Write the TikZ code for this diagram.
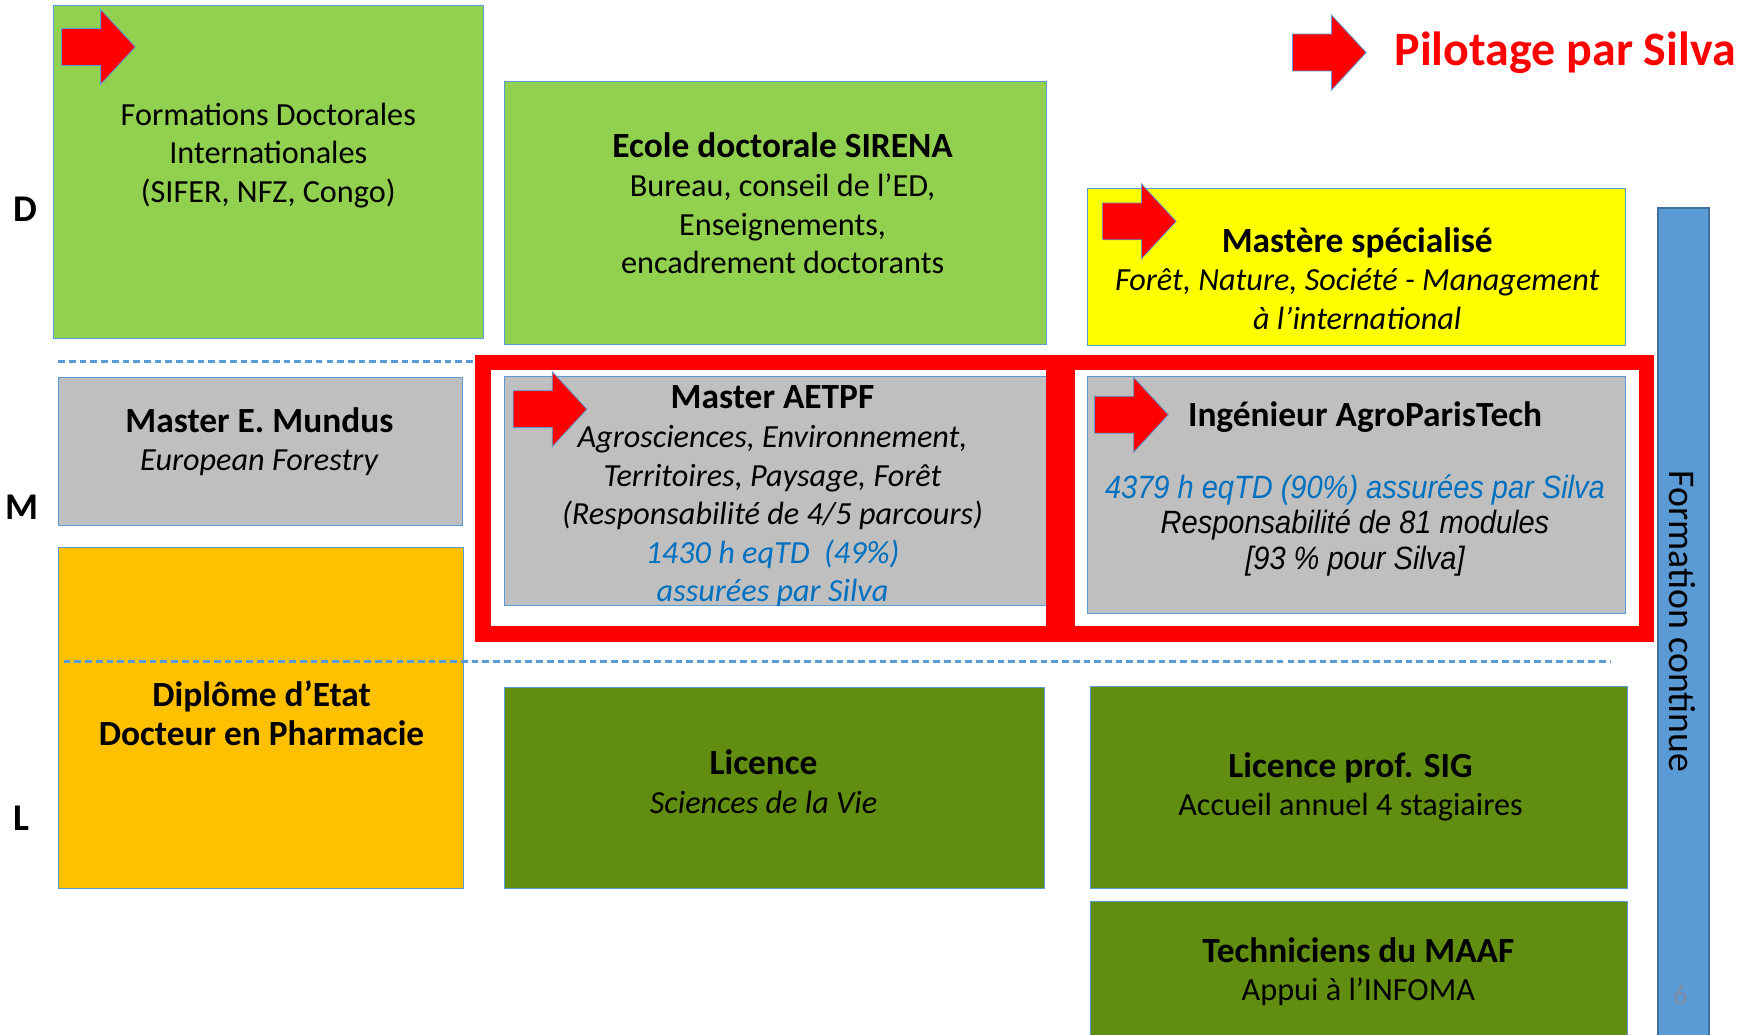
\documentclass[tikz,border=0pt]{standalone}
\usepackage{fontspec}
\setmainfont{Carlito}
\newfontfamily\narrowsans[FakeStretch=0.9]{Liberation Sans}
\definecolor{lightgreen}{RGB}{146,208,80}
\definecolor{darkgreen}{RGB}{97,142,17}
\definecolor{boxgray}{RGB}{191,191,191}
\definecolor{boxorange}{RGB}{255,192,0}
\definecolor{boxyellow}{RGB}{255,255,0}
\definecolor{edgeblue}{RGB}{91,155,213}
\definecolor{barblue}{RGB}{91,155,213}
\definecolor{baredge}{RGB}{65,113,156}
\definecolor{txtblue}{RGB}{0,112,192}
\definecolor{pagegray}{RGB}{125,140,165}
\newcommand\titlefont[1]{{\fontsize{22.5}{24.5}\selectfont\bfseries #1}}

\begin{document}
\begin{tikzpicture}[x=0.025cm, y=-0.025cm,
    box/.style={draw=edgeblue, line width=0.6pt},
    txt/.style={align=center, inner sep=0pt, font=\fontsize{20.5}{24.5}\selectfont},
    level/.style={inner sep=0pt, font=\fontsize{24}{28}\selectfont\bfseries},
    silvaframe/.style={draw=red, line width=0.34cm},
    sep/.style={draw=edgeblue, line width=1.8pt, dash pattern=on 0.15cm off 0.09cm},
    pilot/.pic={\draw[fill=red, draw=edgeblue, line width=0.5pt] (-66,-16.5) -- (-31,-16.5) -- (-31,-33.5) -- (0,0) -- (-31,33.5) -- (-31,16.5) -- (-66,16.5) -- cycle;}]
  \useasboundingbox (0,0) rectangle (1568,925);

  \draw[box, fill=lightgreen] (48,5) rectangle (432,303);
  \draw[box, fill=lightgreen] (451,73) rectangle (936,308);
  \draw[box, fill=boxyellow] (973,169) rectangle (1454,309);
  \draw[box, fill=boxgray] (52,338) rectangle (414,470);
  \draw[box, fill=boxgray] (451,337) rectangle (936,542);
  \draw[box, fill=boxgray] (973,337) rectangle (1454,549);
  \draw[box, fill=boxorange] (52,490) rectangle (415,795);
  \draw[box, fill=darkgreen] (451,615) rectangle (934,795);
  \draw[box, fill=darkgreen] (975,614) rectangle (1456,795);
  \draw[box, fill=darkgreen] (975,806) rectangle (1456,935);
  \draw[draw=baredge, fill=barblue, line width=1.2pt] (1483,186) rectangle (1529,935);

  \draw[sep] (52,323) -- (425,323);
  \draw[sep] (57,592) -- (1440,592);

  \draw[silvaframe] (432,324.5) rectangle (942,567);
  \draw[silvaframe] (955,324.5) rectangle (1473,567);

  \pic at (121,42) {pilot};
  \pic at (1052,198) {pilot};
  \pic at (525,366) {pilot};
  \pic at (1045,371) {pilot};
  \pic at (1222,47) {pilot};

  \node[txt] (fdi) at (240,139) {Formations Doctorales\\Internationales\\(SIFER, NFZ, Congo)};
  \node[txt] (sirena) at (700,182) {\titlefont{Ecole doctorale SIRENA}\\Bureau, conseil de l’ED,\\Enseignements,\\encadrement doctorants};
  \node[txt] (mastere) at (1214,249) {\titlefont{Mastère spécialisé}\\\textit{Forêt, Nature, Société - Management}\\\textit{à l’international}};
  \node[txt] (mundus) at (232,395) {\titlefont{Master E. Mundus}\\\textit{European Forestry}};
  \node[txt] (aetpf) at (691,444) {\titlefont{Master AETPF}\\\textit{Agrosciences, Environnement,}\\\textit{Territoires, Paysage, Forêt}\\\textit{(Responsabilité de 4/5 parcours)}\\\textcolor{txtblue}{\textit{1430 h eqTD~ (49\%)}}\\\textcolor{txtblue}{\textit{assurées par Silva}}};
  \node[txt] (inge) at (1221,373) {\titlefont{Ingénieur AgroParisTech}};
  \node[txt, font=\fontsize{20.5}{22.3}\selectfont\narrowsans\itshape] (ingedetail) at (1212,470) {\textcolor{txtblue}{4379 h eqTD (90\%) assurées par Silva}\\Responsabilité de 81 modules\\{[}93 \% pour Silva{]}};
  \node[txt] (diplome) at (234,638) {\titlefont{Diplôme d’Etat}\\\titlefont{Docteur en Pharmacie}};
  \node[txt] (licence) at (683,699) {\titlefont{Licence}\\\textit{Sciences de la Vie}};
  \node[txt] (sig) at (1208,704) {\titlefont{Licence prof. SIG}\\Accueil annuel 4 stagiaires};
  \node[txt] (maaf) at (1215,869) {\titlefont{Techniciens du MAAF}\\Appui à l’INFOMA};
  \node[inner sep=0pt, font=\fontsize{30.5}{36}\selectfont\bfseries, text=red] (pilotage) at (1400,47) {Pilotage par Silva};

  \node[level] (lvd) at (23,187) {D};
  \node[level] (lvm) at (20,454) {M};
  \node[level] (lvl) at (19,732) {L};

  \node[inner sep=0pt, rotate=-90, font=\fontsize{24}{28}\selectfont] (fc) at (1505,556) {Formation continue};
  \node[inner sep=0pt, font=\fontsize{18}{20}\selectfont, text=pagegray] (page) at (1503,890) {6};
\end{tikzpicture}
\end{document}
